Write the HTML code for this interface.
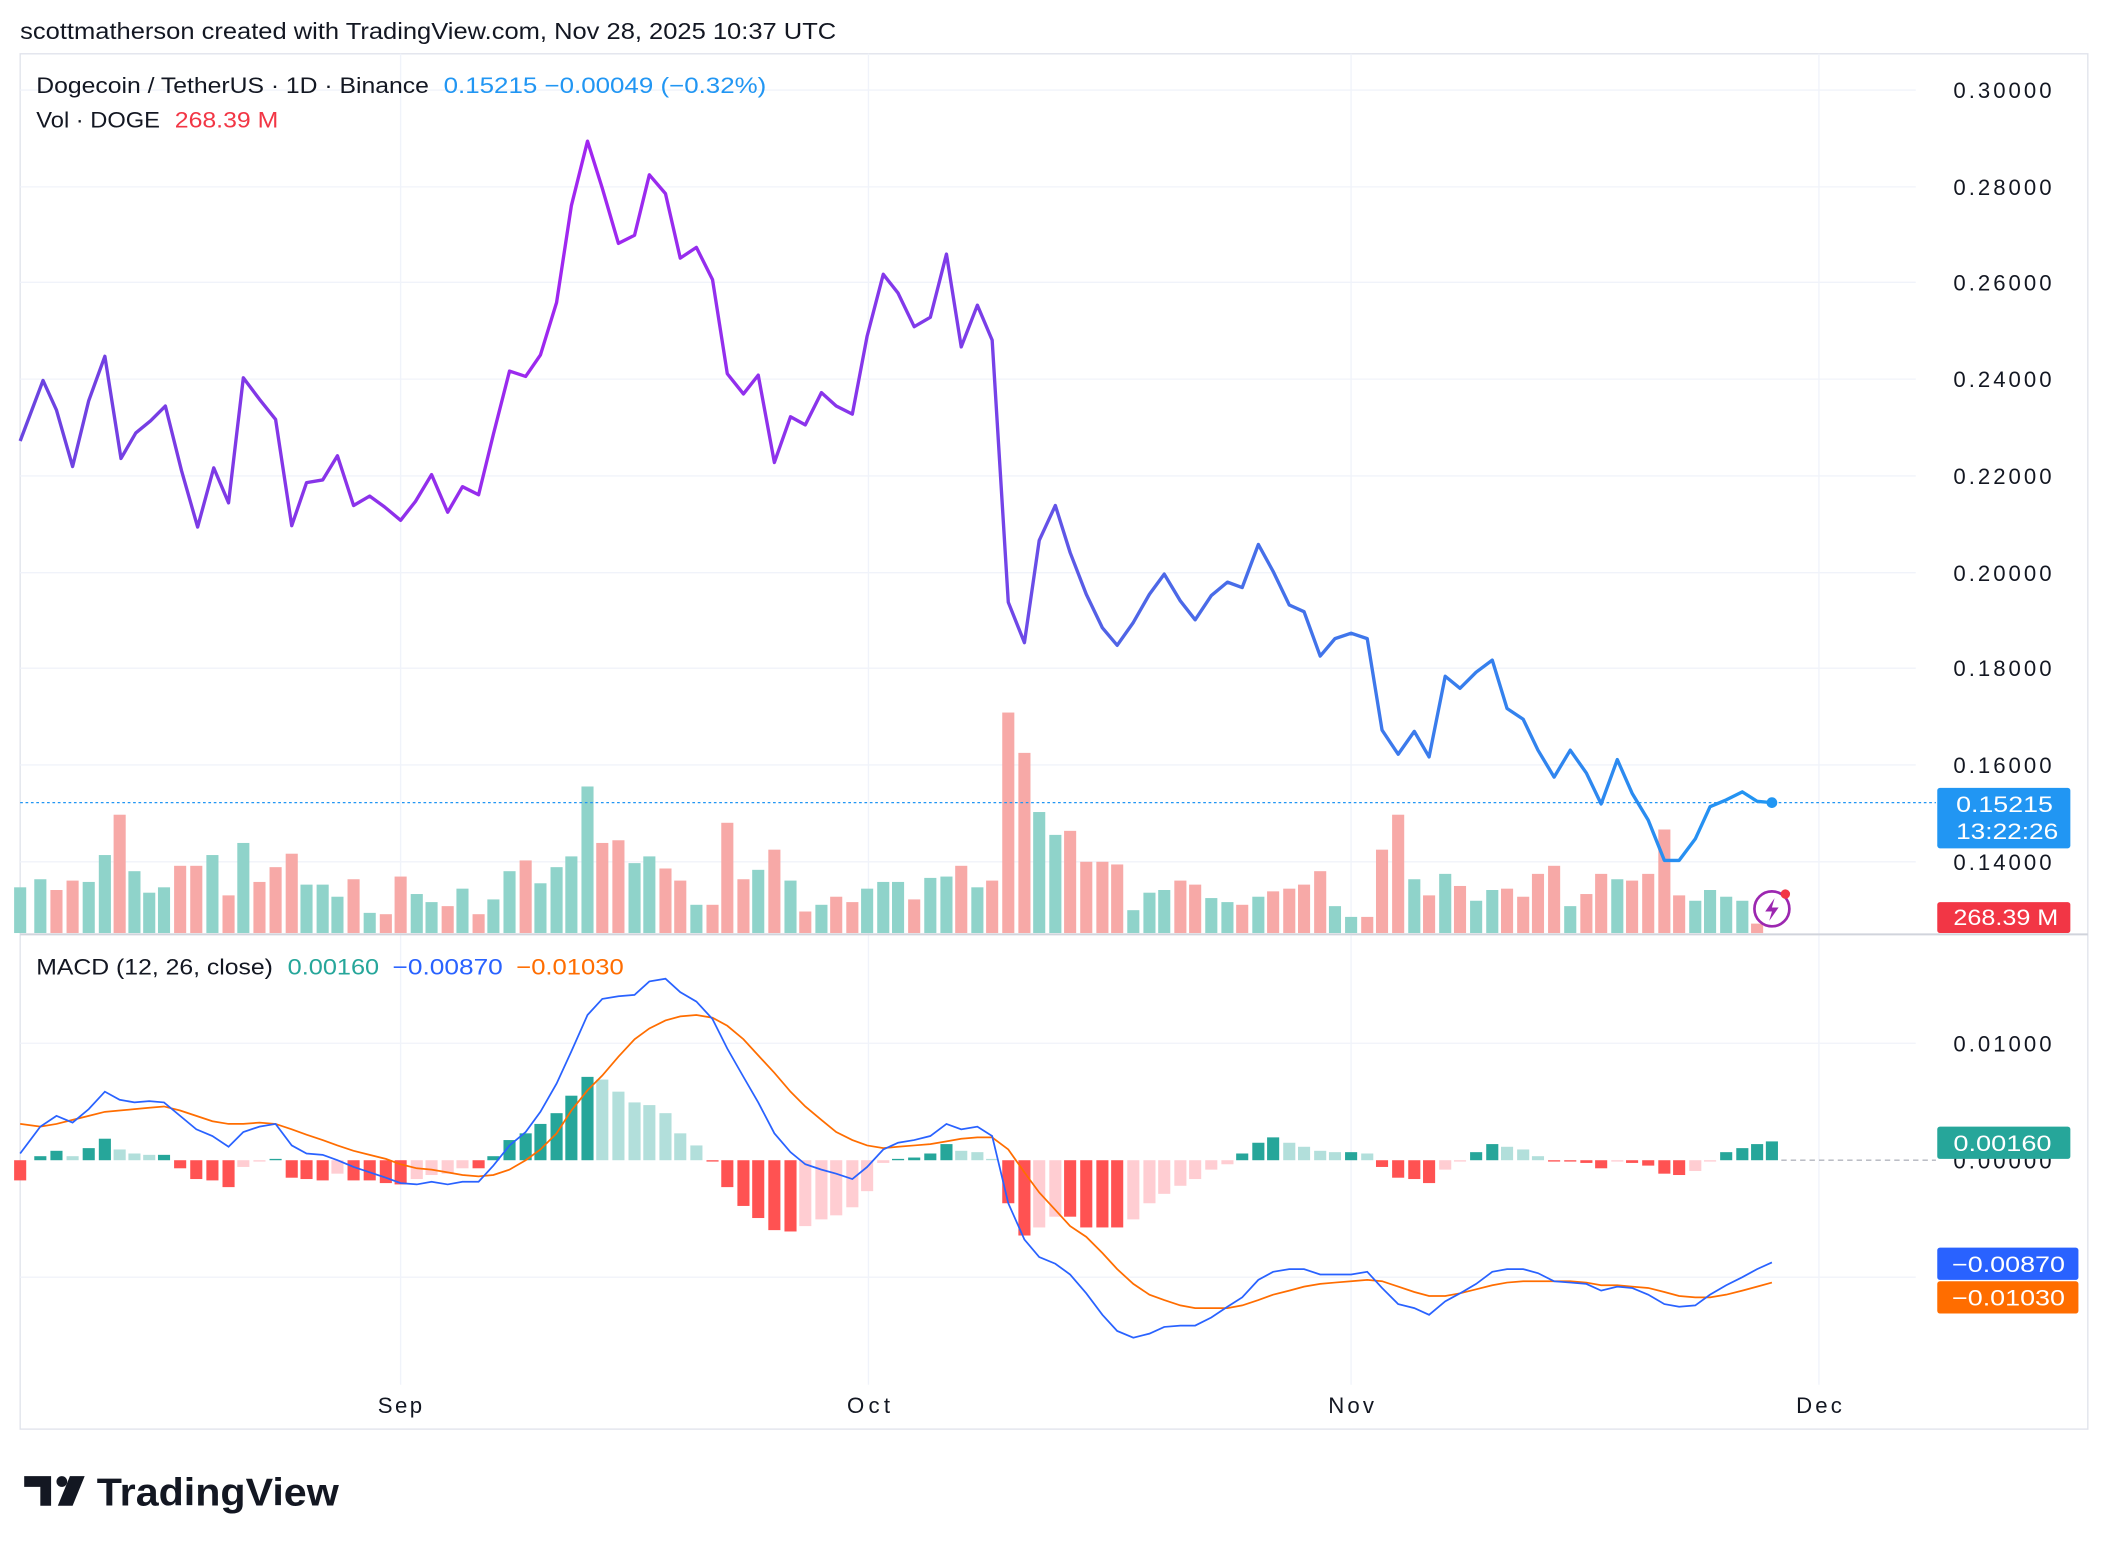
<!DOCTYPE html>
<html><head><meta charset="utf-8"><style>
html,body{margin:0;padding:0;background:#fff;}
svg{display:block;font-family:"Liberation Sans",sans-serif;}
</style></head><body>
<svg width="2108" height="1552" viewBox="0 0 1568 1154.4" xmlns="http://www.w3.org/2000/svg">
<defs>
<linearGradient id="pg" gradientUnits="userSpaceOnUse" x1="15" y1="0" x2="1318" y2="0">
<stop offset="0" stop-color="#6a45e0"/>
<stop offset="0.32" stop-color="#a126f0"/>
<stop offset="0.55" stop-color="#7a3ee8"/>
<stop offset="0.62" stop-color="#5163e6"/>
<stop offset="1" stop-color="#2196f3"/>
</linearGradient>
</defs>
<rect width="1568" height="1155" fill="#fff"/>
<text x="15" y="29" font-size="17.5" fill="#131722" textLength="607" lengthAdjust="spacingAndGlyphs">scottmatherson created with TradingView.com, Nov 28, 2025 10:37 UTC</text>
<rect x="15" y="40" width="1538" height="1023" fill="none" stroke="#e0e3eb" stroke-width="1"/>
<g stroke="#f0f3fa" stroke-width="1">
<line x1="15" x2="1425" y1="67" y2="67"/><line x1="15" x2="1425" y1="139" y2="139"/><line x1="15" x2="1425" y1="210" y2="210"/><line x1="15" x2="1425" y1="282" y2="282"/><line x1="15" x2="1425" y1="354" y2="354"/><line x1="15" x2="1425" y1="426" y2="426"/><line x1="15" x2="1425" y1="497" y2="497"/><line x1="15" x2="1425" y1="569" y2="569"/><line x1="15" x2="1425" y1="641" y2="641"/>
<line x1="15" x2="1425" y1="776" y2="776"/><line x1="15" x2="1425" y1="950" y2="950"/>
<line x1="298" x2="298" y1="40" y2="1030"/><line x1="646" x2="646" y1="40" y2="1030"/><line x1="1005" x2="1005" y1="40" y2="1030"/><line x1="1353" x2="1353" y1="40" y2="1030"/>
</g>
<line x1="15" x2="1553" y1="695" y2="695" stroke="#d1d4dc" stroke-width="1.5"/>
<g id="vol"></g>
<line x1="15" x2="1440" y1="597" y2="597" stroke="#2196f3" stroke-width="1" stroke-dasharray="2,2"/>
<polyline fill="none" stroke="url(#pg)" stroke-width="2.5" stroke-linejoin="round" points="15,328 32,283 42,305 54,347 66,298 78,265 90,341 101,322 112,313 123,302 135,350 147,392 159,348 170,374 181,281 193,297 205,312 217,391 228,359 240,357 251,339 263,376 275,369 286,377 298,387 309,373 321,353 333,381 344,362 356,368 367,323 379,276 391,280 402,264 414,225 425,153 437,105 448,140 460,181 472,175 483,130 495,144 506,192 518,184 530,208 541,278 553,293 564,279 576,344 588,310 599,316 611,292 622,302 634,308 645,250 657,204 668,218 680,243 692,236 704,189 715,258 727,227 738,253 750,448 762,478 773,402 785,376 796,411 808,442 820,467 831,480 843,463 855,442 866,427 878,447 889,461 901,443 913,433 924,437 936,405 947,425 959,450 970,455 982,488 993,475 1005,471 1017,475 1028,543 1040,561 1052,544 1063,563 1075,503 1086,512 1098,500 1110,491 1121,527 1133,535 1144,558 1156,578 1168,558 1180,575 1191,598 1203,565 1214,590 1226,610 1238,640 1249,640 1261,624 1272,600 1284,595 1296,589 1307,596 1318,597"/>
<circle cx="1318" cy="597" r="4" fill="#2196f3"/>
<g id="hist"></g>
<line x1="1325" x2="1440" y1="863" y2="863" stroke="#b2b5be" stroke-width="1" stroke-dasharray="4,3"/>
<polyline fill="none" stroke="#ff6d00" stroke-width="1.3" points="15,836 30,838 42,836 54,833 66,830 78,827 89,826 100,825 111,824 122,823 134,826 146,830 158,834 170,836 181,836 193,835 205,836 217,840 228,844 240,848 251,852 263,856 275,859 287,862 298,866 310,869 321,870 333,872 344,874 356,875 367,874 379,870 391,863 402,855 414,843 425,826 437,811 448,800 460,786 472,773 483,765 495,759 506,756 518,755 530,757 541,763 553,773 564,785 576,798 588,812 599,823 611,833 622,842 634,848 645,852 657,854 668,853 680,852 692,851 704,849 715,847 727,846 738,846 750,855 762,872 773,887 785,900 796,912 808,920 820,932 831,944 843,955 855,963 866,967 878,971 889,973 901,973 913,973 924,971 936,967 947,963 959,960 970,957 982,955 993,954 1005,953 1017,952 1028,953 1040,957 1052,961 1063,964 1075,964 1086,962 1098,959 1110,956 1121,954 1133,953 1144,953 1156,953 1168,953 1180,954 1191,956 1203,956 1214,957 1226,958 1238,961 1249,964 1261,965 1272,965 1284,963 1296,960 1307,957 1318,954"/>
<polyline fill="none" stroke="#2962ff" stroke-width="1.3" points="15,858 30,838 42,830 54,835 66,825 78,812 89,818 100,820 111,819 122,820 134,830 146,840 158,845 170,853 181,842 193,838 205,836 217,852 228,858 240,859 251,863 263,868 275,872 287,876 298,880 310,881 321,879 333,881 344,879 356,879 367,867 379,852 391,842 402,827 414,806 425,782 437,755 448,743 460,741 472,740 483,730 495,728 506,738 518,745 530,758 541,780 553,801 564,820 576,843 588,857 599,866 611,870 622,873 634,877 645,868 657,855 668,850 680,848 692,845 704,836 715,840 727,838 738,845 750,895 762,922 773,935 785,940 796,948 808,962 820,978 831,990 843,995 855,992 866,987 878,986 889,986 901,980 913,972 924,965 936,952 947,946 959,944 970,944 982,948 993,948 1005,948 1017,946 1028,958 1040,970 1052,973 1063,978 1075,968 1086,962 1098,955 1110,946 1121,944 1133,944 1144,947 1156,953 1168,954 1180,955 1191,960 1203,957 1214,958 1226,963 1238,970 1249,972 1261,971 1272,963 1284,956 1296,950 1307,944 1318,939"/>
<g font-size="16.5">
<text x="27" y="69" fill="#131722" textLength="292" lengthAdjust="spacingAndGlyphs">Dogecoin / TetherUS · 1D · Binance</text>
<text x="330" y="69" fill="#2196f3" textLength="240" lengthAdjust="spacingAndGlyphs">0.15215  −0.00049 (−0.32%)</text>
<text x="27" y="95" fill="#131722" textLength="92" lengthAdjust="spacingAndGlyphs">Vol · DOGE</text>
<text x="130" y="95" fill="#f23645" textLength="77" lengthAdjust="spacingAndGlyphs">268.39 M</text>
<text x="27" y="725" fill="#131722" textLength="176" lengthAdjust="spacingAndGlyphs">MACD (12, 26, close)</text>
<text x="214" y="725" fill="#26a69a" textLength="68" lengthAdjust="spacingAndGlyphs">0.00160</text>
<text x="292" y="725" fill="#2962ff" textLength="82" lengthAdjust="spacingAndGlyphs">−0.00870</text>
<text x="384" y="725" fill="#ff6d00" textLength="80" lengthAdjust="spacingAndGlyphs">−0.01030</text>
</g>
<g font-size="16.5" fill="#131722" lengthAdjust="spacingAndGlyphs">
<text x="1453" y="73" textLength="73">0.30000</text><text x="1453" y="145" textLength="73">0.28000</text><text x="1453" y="216" textLength="73">0.26000</text><text x="1453" y="288" textLength="73">0.24000</text><text x="1453" y="360" textLength="73">0.22000</text><text x="1453" y="432" textLength="73">0.20000</text><text x="1453" y="503" textLength="73">0.18000</text><text x="1453" y="575" textLength="73">0.16000</text><text x="1453" y="647" textLength="73">0.14000</text>
<text x="1453" y="782" textLength="73">0.01000</text><text x="1453" y="869" textLength="73">0.00000</text>
<text x="281" y="1051" textLength="33">Sep</text><text x="630" y="1051" textLength="32">Oct</text><text x="988" y="1051" textLength="34">Nov</text><text x="1336" y="1051" textLength="34">Dec</text>
</g>
<rect x="1441" y="586" width="99" height="45" rx="2" fill="#2196f3"/>
<text x="1455" y="604" font-size="16.5" fill="#fff" textLength="72" lengthAdjust="spacingAndGlyphs">0.15215</text>
<text x="1455" y="624" font-size="16.5" fill="#fff" textLength="76" lengthAdjust="spacingAndGlyphs">13:22:26</text>
<rect x="1441" y="671" width="99" height="23" rx="2" fill="#f23645"/>
<text x="1453" y="688" font-size="16.5" fill="#fff" textLength="78" lengthAdjust="spacingAndGlyphs">268.39 M</text>
<rect x="1441" y="838" width="99" height="24" rx="2" fill="#26a69a"/>
<text x="1453" y="856" font-size="16.5" fill="#fff" textLength="73" lengthAdjust="spacingAndGlyphs">0.00160</text>
<rect x="1441" y="928" width="105" height="24" rx="2" fill="#2962ff"/>
<text x="1452" y="946" font-size="16.5" fill="#fff" textLength="84" lengthAdjust="spacingAndGlyphs">−0.00870</text>
<rect x="1441" y="953" width="105" height="24" rx="2" fill="#ff6d00"/>
<text x="1452" y="971" font-size="16.5" fill="#fff" textLength="84" lengthAdjust="spacingAndGlyphs">−0.01030</text>
<circle cx="1318" cy="676" r="13" fill="#fff" stroke="#9c27b0" stroke-width="2"/>
<path d="M1320 668 L1313 678 L1318 678 L1316 685 L1323 675 L1318 675 Z" fill="#9c27b0"/>
<circle cx="1328" cy="665" r="3.5" fill="#f23645"/>
<g fill="#131722">
<path d="M18 1098 H38 V1120 H30 V1106 H18 Z"/>
<circle cx="46" cy="1102" r="4"/>
<path d="M52 1098 H63 L54 1120 H43 Z"/>
</g>
<text x="72" y="1120" font-size="29" font-weight="bold" fill="#131722" textLength="180" lengthAdjust="spacingAndGlyphs">TradingView</text>
<script>
(function(){
var ns="http://www.w3.org/2000/svg";
var v="15:660g,30:654g,42:662r,54:655r,66:656g,78:636g,89:606r,100:648g,111:664g,122:660g,134:644r,146:644r,158:636g,170:666r,181:627g,193:656r,205:645r,217:635r,228:658g,240:658g,251:667g,263:654r,275:679g,287:680r,298:652r,310:665g,321:671g,333:674r,344:661g,356:680r,367:669g,379:648g,391:640r,402:657g,414:645g,425:637g,437:585g,448:627r,460:625r,472:642g,483:637g,495:646r,506:655r,518:673g,530:673r,541:612r,553:654r,564:647g,576:632r,588:655g,599:678r,611:673g,622:667r,634:671r,645:661g,657:656g,668:656g,680:669r,692:653g,704:652g,715:644r,727:660g,738:655r,750:530r,762:560r,773:604g,785:621g,796:618r,808:641r,820:641r,831:643r,843:677g,855:664g,866:662g,878:655r,889:658r,901:668g,913:671g,924:673r,936:667g,947:663r,959:661r,970:658r,982:648r,993:674g,1005:682g,1017:682r,1028:632r,1040:606r,1052:654g,1063:666r,1075:650g,1086:659r,1098:670g,1110:662g,1121:661r,1133:667r,1144:650r,1156:644r,1168:674g,1180:665r,1191:650r,1203:654g,1214:655r,1226:650r,1238:617r,1249:666r,1261:670g,1272:662g,1284:667g,1296:670g,1307:687r".split(",");
var g=document.getElementById("vol");
v.forEach(function(s){var p=s.split(":");var x=+p[0],c=p[1].slice(-1),y=parseFloat(p[1]);
var r=document.createElementNS(ns,"rect");r.setAttribute("x",x-4.5);r.setAttribute("y",y);r.setAttribute("width",9);r.setAttribute("height",694-y);
r.setAttribute("fill",c=="g"?"#8fd3ca":"#f7a9a7");g.appendChild(r);});
var h="15:878,30:860,42:856,54:860,66:854,78:847,89:855,100:858,111:859,122:859,134:869,146:877,158:878,170:883,181:868,193:864,205:862,217:876,228:877,240:878,251:873,263:878,275:878,287:880,298:881,310:877,321:874,333:873,344:869,356:869,367:860,379:848,391:843,402:836,414:828,425:815,437:801,448:803,460:812,472:820,483:822,495:828,506:843,518:852,530:864,541:883,553:897,564:906,576:915,588:916,599:912,611:907,622:904,634:898,645:886,657:865,668:862,680:861,692:858,704:851,715:856,727:857,738:862,750:895,762:919,773:913,785:905,796:905,808:913,820:913,831:913,843:907,855:895,866:888,878:882,889:877,901:870,913:866,924:858,936:850,947:846,959:850,970:853,982:856,993:857,1005:857,1017:858,1028:868,1040:876,1052:877,1063:880,1075:870,1086:864,1098:857,1110:851,1121:853,1133:855,1144:860,1156:864,1168:864,1180:865,1191:869,1203:864,1214:865,1226:867,1238:873,1249:874,1261:871,1272:864,1284:857,1296:854,1307:851,1318:849".split(",");
var hg=document.getElementById("hist");var prev=0;
h.forEach(function(s){var p=s.split(":");var x=+p[0],y=+p[1];var val=863-y;var col;
if(val>=0){col=val>=prev?"#26a69a":"#b2dfdb";}else{col=val<=prev?"#ff5252":"#ffcdd2";}
prev=val;var r=document.createElementNS(ns,"rect");r.setAttribute("x",x-4.5);r.setAttribute("width",9);
r.setAttribute("y",Math.min(y,863));r.setAttribute("height",Math.max(1,Math.abs(val)));r.setAttribute("fill",col);hg.appendChild(r);});
})();
</script>
</svg>
</body></html>
